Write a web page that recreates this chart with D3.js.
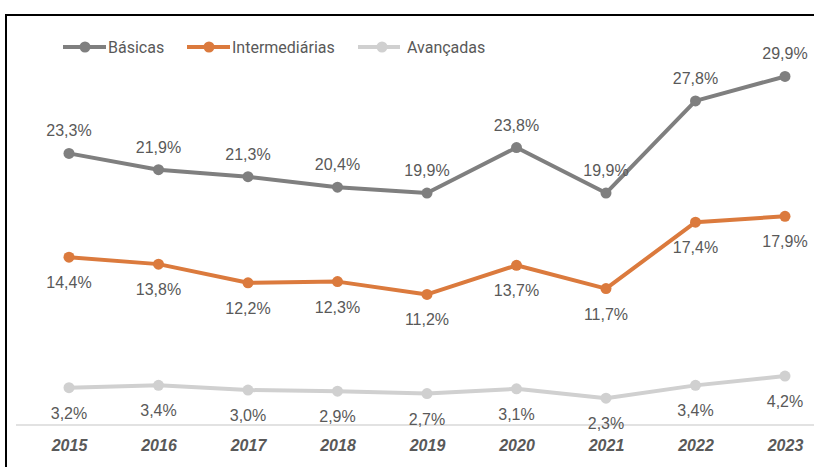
<!DOCTYPE html>
<html>
<head>
<meta charset="utf-8">
<script src="https://cdn.jsdelivr.net/npm/d3@7"></script>
<style>
  body { margin: 0; background: #fff; }
  svg { display: block; }
</style>
</head>
<body>
<div id="chart"></div>
<script>
const width = 814;
const height = 467;

const years = ["2015", "2016", "2017", "2018", "2019", "2020", "2021", "2022", "2023"];
const basicas = [23.3, 21.9, 21.3, 20.4, 19.9, 23.8, 19.9, 27.8, 29.9];
const intermediarias = [14.4, 13.8, 12.2, 12.3, 11.2, 13.7, 11.7, 17.4, 17.9];
const avancadas = [3.2, 3.4, 3.0, 2.9, 2.7, 3.1, 2.3, 3.4, 4.2];

const seriesNames = ["Básicas", "Intermediárias", "Avançadas"];
const seriesColors = ["#7f7f7f", "#db7a3d", "#d0d0d0"];
// label above (-1) or below (+1) the point
const labelSide = [-1, 1, 1];

const series = [basicas, intermediarias, avancadas].map((values, i) => ({
    name: seriesNames[i],
    color: seriesColors[i],
    side: labelSide[i],
    values: values.map((v, j) => ({ year: years[j], value: v }))
}));

const labelFont = "'Liberation Sans', Arial, sans-serif";
const legendFont = "Roboto, 'Liberation Sans', sans-serif";

const svg = d3.select("#chart")
    .append("svg")
    .attr("width", width)
    .attr("height", height);

// outer frame
svg.append("rect")
    .attr("x", 6)
    .attr("y", 15)
    .attr("width", 830)
    .attr("height", 480)
    .attr("fill", "none")
    .attr("stroke", "#000")
    .attr("stroke-width", 2);

const xScale = d3.scalePoint()
    .domain(years)
    .range([69, 785]);

const yScale = d3.scaleLinear()
    .domain([0, 35])
    .range([425, 17]);

// baseline
svg.append("line")
    .attr("x1", 16)
    .attr("x2", width)
    .attr("y1", yScale(0))
    .attr("y2", yScale(0))
    .attr("stroke", "#d9d9d9")
    .attr("stroke-width", 1.5);

// year labels
const xAxis = svg.append("g")
    .attr("transform", `translate(0,${yScale(0)})`)
    .call(d3.axisBottom(xScale).tickSize(0).tickPadding(15));
xAxis.select(".domain").remove();
xAxis.selectAll("text")
    .style("font-family", labelFont)
    .style("font-size", "16px")
    .style("font-weight", "bold")
    .style("font-style", "italic")
    .attr("fill", "#595959");

const line = d3.line()
    .x(d => xScale(d.year))
    .y(d => yScale(d.value));

const fmt = v => d3.format(".1f")(v).replace(".", ",") + "%";

const groups = svg.selectAll(".series")
    .data(series)
    .enter()
    .append("g")
    .attr("class", "series");

groups.append("path")
    .attr("d", d => line(d.values))
    .attr("fill", "none")
    .attr("stroke", d => d.color)
    .attr("stroke-width", 4)
    .attr("stroke-linejoin", "round");

groups.selectAll("circle")
    .data(d => d.values.map(v => ({ ...v, color: d.color })))
    .enter()
    .append("circle")
    .attr("cx", d => xScale(d.year))
    .attr("cy", d => yScale(d.value))
    .attr("r", 5.5)
    .attr("fill", d => d.color);

groups.selectAll(".lbl")
    .data(d => d.values.map(v => ({ ...v, side: d.side })))
    .enter()
    .append("text")
    .attr("class", "lbl")
    .attr("x", d => xScale(d.year))
    .attr("y", d => yScale(d.value) + (d.side < 0 ? -17 : 31))
    .attr("text-anchor", "middle")
    .style("font-family", labelFont)
    .style("font-size", "16px")
    .attr("fill", "#595959")
    .text(d => fmt(d.value));

// legend
const legendX = [63, 187, 358];
const legend = svg.selectAll(".legend-item")
    .data(series)
    .enter()
    .append("g")
    .attr("class", "legend-item")
    .attr("transform", (d, i) => `translate(${legendX[i]},47)`);
legend.append("line")
    .attr("x1", 0)
    .attr("x2", (d, i) => i === 2 ? 42 : 43)
    .attr("stroke", d => d.color)
    .attr("stroke-width", 4);
legend.append("circle")
    .attr("cx", (d, i) => i === 2 ? 24 : 22)
    .attr("r", 5.5)
    .attr("fill", d => d.color);
legend.append("text")
    .attr("x", (d, i) => i === 2 ? 49 : 45)
    .attr("y", 5.5)
    .style("font-family", legendFont)
    .style("font-size", "16px")
    .attr("fill", "#595959")
    .text(d => d.name);
</script>
</body>
</html>
